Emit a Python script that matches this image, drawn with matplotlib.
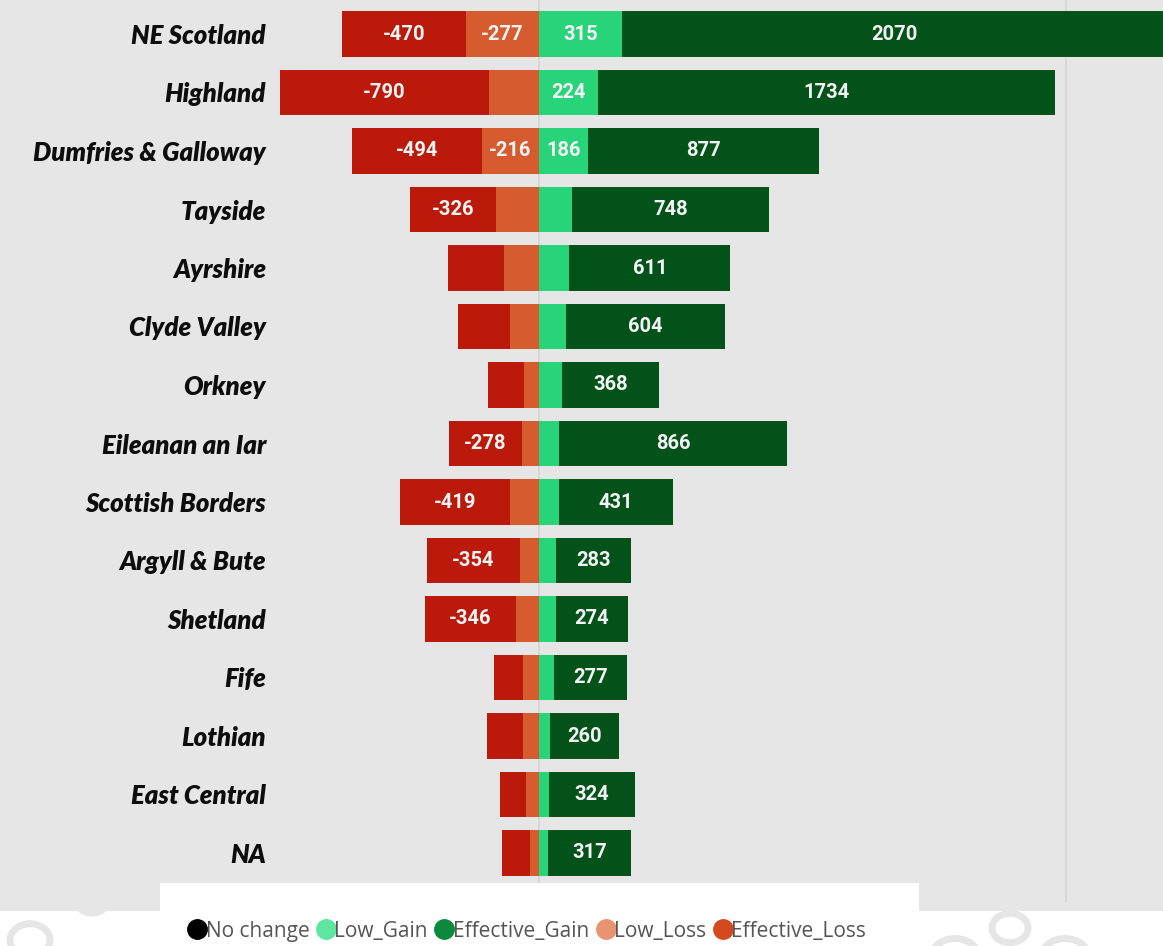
import matplotlib
matplotlib.use("Agg")
import matplotlib.pyplot as plt
from matplotlib.patches import Rectangle, Circle
from matplotlib.lines import Line2D
import numpy as np

regions = ["NE Scotland", "Highland", "Dumfries & Galloway", "Tayside", "Ayrshire",
           "Clyde Valley", "Orkney", "Eileanan an Iar", "Scottish Borders", "Argyll & Bute",
           "Shetland", "Fife", "Lothian", "East Central", "NA"]
effective_loss = [470, 790, 494, 326, 211, 198, 138, 278, 419, 354, 346, 111, 138, 99, 105]
low_loss = [277, 191, 216, 162, 133, 110, 57, 65, 110, 72, 87, 60, 60, 49, 34]
low_gain = [315, 224, 186, 125, 115, 102, 87, 76, 76, 65, 63, 56, 42, 39, 33]
effective_gain = [2070, 1734, 877, 748, 611, 604, 368, 866, 431, 283, 274, 277, 260, 324, 317]

# which data labels are visible in the original
show_eff_loss = [1, 1, 1, 1, 0, 0, 0, 1, 1, 1, 1, 0, 0, 0, 0]
show_low_loss = [1, 0, 1, 0, 0, 0, 0, 0, 0, 0, 0, 0, 0, 0, 0]
show_low_gain = [1, 1, 1, 0, 0, 0, 0, 0, 0, 0, 0, 0, 0, 0, 0]
show_eff_gain = [1] * 15

legend_labels = ["No change", "Low_Gain", "Effective_Gain", "Low_Loss", "Effective_Loss"]
legend_colors = ["#000000", "#5ee59f", "#0b8a3e", "#e99470", "#d4491d"]

C_EFF_LOSS = "#bb190a"
C_LOW_LOSS = "#d65c30"
C_LOW_GAIN = "#27d47a"
C_EFF_GAIN = "#035219"

W, H = 1163, 946
fig = plt.figure(figsize=(W / 100, H / 100), dpi=100, facecolor="white")

# grey background panel and white legend box
fig.patches.append(Rectangle((0, 1 - 911 / H), 1, 911 / H, transform=fig.transFigure,
                             facecolor="#e6e6e6", edgecolor="none", zorder=-5))
fig.patches.append(Rectangle((160 / W, 1 - 911 / H), (919 - 160) / W, (911 - 883) / H,
                             transform=fig.transFigure, facecolor="white", edgecolor="none", zorder=5))

# faint decorative rings at the bottom
for (cx, cy, r) in [(30, 940, 20), (92, 900, 16), (1010, 928, 18), (955, 958, 24), (1065, 958, 24)]:
    fig.patches.append(Circle((cx / W, 1 - cy / H), r / W, transform=fig.transFigure,
                              facecolor="none", edgecolor="#e6e6e6", lw=5, zorder=-6))

left_px, bottom_px = 277, 902
ax = fig.add_axes([left_px / W, 1 - bottom_px / H, (W - left_px) / W, bottom_px / H])
ax.set_facecolor("none")

scale = 0.2636  # px per unit
zero_px = 539
ax.set_xlim((left_px - zero_px) / scale, (W - zero_px) / scale)
y_top = -34 / 58.5
y_bot = (bottom_px - 34) / 58.5
ax.set_ylim(y_bot, y_top)

y = np.arange(len(regions))
el = np.array(effective_loss)
ll = np.array(low_loss)
lg = np.array(low_gain)
eg = np.array(effective_gain)
h = 0.786

ax.barh(y, -ll, left=0, height=h, color=C_LOW_LOSS, zorder=3)
ax.barh(y, -el, left=-ll, height=h, color=C_EFF_LOSS, zorder=3)
ax.barh(y, lg, left=0, height=h, color=C_LOW_GAIN, zorder=3)
ax.barh(y, eg, left=lg, height=h, color=C_EFF_GAIN, zorder=3)

lab_kw = dict(ha="center", va="center", color="#f4f4f4", fontsize=14.5,
              fontweight="bold", family="Roboto", zorder=4, clip_on=True)
for i in range(len(regions)):
    if show_eff_loss[i]:
        ax.text(-ll[i] - el[i] / 2, i, f"-{el[i]}", **lab_kw)
    if show_low_loss[i]:
        ax.text(-ll[i] / 2, i, f"-{ll[i]}", **lab_kw)
    if show_low_gain[i]:
        ax.text(lg[i] / 2, i, f"{lg[i]}", **lab_kw)
    if show_eff_gain[i]:
        ax.text(lg[i] + eg[i] / 2, i, f"{eg[i]}", **lab_kw)

ax.set_xticks([0, 2000])
ax.set_xticklabels([])
ax.grid(axis="x", color="#d6d6d6", lw=1.3, zorder=1)
ax.set_axisbelow(True)
ax.set_yticks(y)
ax.set_yticklabels(regions, fontsize=18.5, fontweight="heavy", style="italic",
                   family="Lato", color="#0d0d0d")
ax.tick_params(axis="both", length=0, pad=8)
for s in ax.spines.values():
    s.set_visible(False)

handles = [Line2D([], [], marker="o", linestyle="none", markersize=14,
                  markerfacecolor=c, markeredgecolor=c) for c in legend_colors]
fig.legend(handles, legend_labels, loc="center", bbox_to_anchor=(528 / W, 1 - 931 / H),
           ncol=5, frameon=False, handlelength=0.7, handletextpad=0.05, columnspacing=0.45,
           prop={"family": "Open Sans", "size": 15}, labelcolor="#555555")

fig.savefig("out.png", dpi=100, facecolor="white")
